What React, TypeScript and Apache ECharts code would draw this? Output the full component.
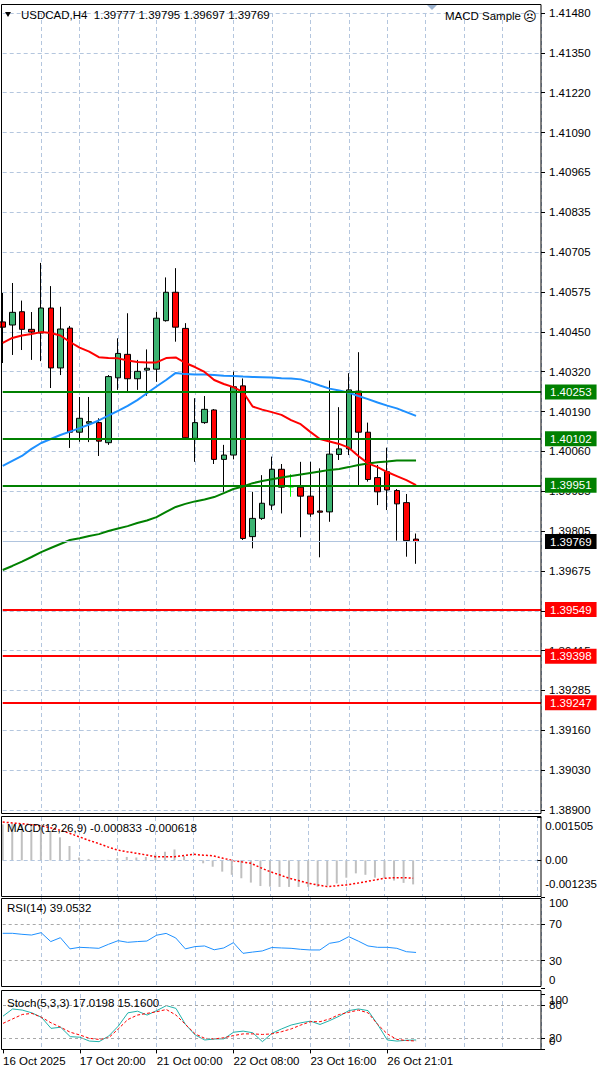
import React, { useEffect, useRef } from "react";
import * as echarts from "echarts";

// ---------- DATA ----------
const symbolName = "USDCAD,H4";
const opens = [1.40480,1.40470,1.40513,1.40456,1.40444,1.40525,1.40331,1.40460,1.40123,1.40152,1.40154,1.40089,1.40299,1.40375,1.40296,1.40324,1.40327,1.40484,1.40576,1.40459,1.40103,1.40154,1.40195,1.40035,1.40049,1.40273,1.39785,1.39844,1.39887,1.40003,1.39946,1.39945,1.39916,1.39868,1.39865,1.40051,1.40069,1.40256,1.40123,1.39976,1.39995,1.39934,1.39895,1.39777];
const closes = [1.40463,1.40511,1.40456,1.40447,1.40525,1.40331,1.40457,1.40123,1.40168,1.40157,1.40094,1.40303,1.40378,1.40296,1.40320,1.40330,1.40492,1.40576,1.40463,1.40105,1.40154,1.40197,1.40035,1.40049,1.40270,1.39779,1.39844,1.39893,1.40003,1.39945,1.39946,1.39916,1.39858,1.39864,1.40052,1.40069,1.40260,1.40123,1.39970,1.39930,1.39936,1.39891,1.39772,1.39769];
const highs = [1.40574,1.40606,1.40549,1.40512,1.40671,1.40596,1.40529,1.40467,1.40237,1.40237,1.40168,1.40308,1.40427,1.40508,1.40357,1.40391,1.40513,1.40624,1.40654,1.40476,1.40233,1.40240,1.40198,1.40082,1.40319,1.40297,1.39930,1.39984,1.40044,1.40020,1.39987,1.40027,1.40027,1.40006,1.40290,1.40204,1.40314,1.40382,1.40154,1.40017,1.40073,1.39939,1.39923,1.39795];
const lows = [1.40347,1.40373,1.40389,1.40357,1.40353,1.40266,1.40308,1.40072,1.40092,1.40091,1.40046,1.40082,1.40260,1.40254,1.40260,1.40241,1.40286,1.40481,1.40416,1.40102,1.40027,1.40150,1.40020,1.39930,1.40035,1.39774,1.39747,1.39839,1.39871,1.39860,1.39914,1.39783,1.39849,1.39718,1.39833,1.40033,1.40049,1.39952,1.39963,1.39887,1.39871,1.39772,1.39720,1.39697];

const maRed = [1.40412,1.40428,1.40436,1.40441,1.40447,1.40444,1.40436,1.40415,1.40397,1.40384,1.40366,1.40363,1.40362,1.40355,1.40350,1.40349,1.40349,1.40363,1.40365,1.40347,1.40334,1.40318,1.40292,1.40279,1.40269,1.40253,1.40206,1.40196,1.40188,1.40179,1.40162,1.40149,1.40124,1.40101,1.40093,1.40085,1.40073,1.40046,1.40022,1.40010,1.39994,1.39981,1.39968,1.39952];
const maBlue = [1.40014,1.40030,1.40046,1.40069,1.40088,1.40101,1.40114,1.40125,1.40136,1.40148,1.40161,1.40177,1.40192,1.40208,1.40227,1.40249,1.40271,1.40292,1.40315,1.40311,1.40310,1.40310,1.40308,1.40306,1.40305,1.40303,1.40302,1.40301,1.40300,1.40298,1.40297,1.40294,1.40285,1.40274,1.40264,1.40258,1.40251,1.40240,1.40230,1.40219,1.40209,1.40200,1.40188,1.40176];
const maGreen = [1.39677,1.39690,1.39704,1.39719,1.39735,1.39748,1.39761,1.39774,1.39780,1.39787,1.39793,1.39803,1.39811,1.39819,1.39829,1.39837,1.39848,1.39865,1.39881,1.39891,1.39899,1.39905,1.39913,1.39926,1.39939,1.39947,1.39958,1.39965,1.39971,1.39976,1.39981,1.39986,1.39991,1.39996,1.40001,1.40004,1.40010,1.40017,1.40022,1.40026,1.40028,1.40031,1.40031,1.40031];

const resistanceLevels = [1.40253, 1.40102, 1.39951];
const supportLevels = [1.39549, 1.39398, 1.39247];
const currentPrice = 1.39769;
const limeDojiIndex = 30;

const priceTickLabels = ["1.38900","1.39030","1.39160","1.39285","1.39415","1.39545","1.39675","1.39805","1.39935","1.40060","1.40190","1.40320","1.40450","1.40575","1.40705","1.40835","1.40965","1.41090","1.41220","1.41350","1.41480"];

const macdMain = [0.00125,0.00128,0.00125,0.00120,0.00115,0.00100,0.00080,0.00050,0.00010,0.00005,-0.00002,0.00002,0.00008,0.00012,0.00010,0.00012,0.00020,0.00030,0.00038,0.00015,0.00000,-0.00010,-0.00022,-0.00039,-0.00050,-0.00062,-0.00077,-0.00089,-0.00091,-0.00092,-0.00092,-0.00092,-0.00092,-0.00092,-0.00088,-0.00080,-0.00060,-0.00045,-0.00050,-0.00060,-0.00062,-0.00070,-0.00078,-0.000833];
const macdSignal = [0.00133,0.00130,0.00127,0.00124,0.00120,0.00113,0.00105,0.00094,0.00082,0.00070,0.00059,0.00047,0.00036,0.00030,0.00025,0.00019,0.00013,0.00013,0.00013,0.00017,0.00021,0.00018,0.00016,0.00008,0.00000,-0.00005,-0.00010,-0.00025,-0.00039,-0.00050,-0.00062,-0.00070,-0.00079,-0.00085,-0.00091,-0.00088,-0.00085,-0.00080,-0.00074,-0.00068,-0.00062,-0.00060,-0.00060,-0.000618];
const macdAxisLabels = [-0.001235, 0, 0.001505];

const rsi = [60.1,60.1,59,58.2,60.8,51,55.3,43,44.7,44.2,43.6,48,52,50.2,51,51.6,58,60,55,43,45.5,46.2,42,44,49.8,38.1,39.5,40.7,44.5,44,43.6,42.5,41.8,41.8,49.1,50.9,56.4,51.5,46.2,44.7,44.7,43.6,39.9,39.0532];
const rsiAxisLabels = [0, 30, 70, 100];
const rsiLevels = [30, 70];

const stochMain = [60,73,71,66,58,38,40,23,22,15,14,24,42,66,69,62,70,79,74,45,26,17,18.8,19,31,33,30,14,29,37,44,48,51,45,52,60,70,73,70,45,17,15,16.5,17.0198];
const stochSignal = [47,55,63,65,58,48,40,31,26,20,18,21,37,54,62,65,68,72,62,45,28,20,19,21,25,28,28,27,28,32,37,44,50,50,55,63,67,71,66,45,28,18,16,15.16];
const stochEdgeLabels = [0, 100];
const stochLevels = [20, 80];

const timeLabelIndex = [0, 8, 16, 24, 32, 40];
const timeLabels = ["16 Oct 2025", "17 Oct 20:00", "21 Oct 00:00", "22 Oct 08:00", "23 Oct 16:00", "26 Oct 21:01"];
const SLOT_COUNT = 57;

// ---------- STYLE ----------
const FONT = "'Liberation Sans', Arial, sans-serif";
const FS = 11.5;
const GRIDC = "#B4C6DE";
const BULL = "#3CB371";
const BEAR = "#FF0000";

const richFont = { fontFamily: FONT, fontSize: FS, color: "#000" };
// label shifted down (top label) or up (bottom label), like the terminal's inset scale labels
const insetRich = {
  d6: { ...richFont, padding: [12, 0, 0, 0] },
  d9: { ...richFont, padding: [18, 0, 0, 0] },
  u8: { ...richFont, padding: [0, 0, 16, 0] },
  u12: { ...richFont, padding: [0, 0, 24, 0] },
};

const App: React.FC = () => {
  const ref = useRef<HTMLDivElement>(null);

  useEffect(() => {
    if (!ref.current) return;
    const chart = echarts.init(ref.current, undefined, { renderer: "svg" });
    const categories = Array.from({ length: SLOT_COUNT }, (_, i) => String(i));

    const grids = [
      { left: 2.7, right: 59, top: 13, height: 797 },
      { left: 2.7, right: 59, top: 817, height: 79 },
      { left: 2.7, right: 59, top: 897, height: 91 },
      { left: 2.7, right: 59, top: 994, height: 55.4 },
      { left: 2.7, right: 59, top: 994, height: 55.4 }, // stoch level-label overlay
    ];

    const xAxes = grids.map((_, gi) => ({
      type: "category",
      gridIndex: gi,
      data: categories,
      boundaryGap: false,
      show: gi < 4,
      axisLine: { show: false },
      axisTick: {
        show: gi === 3,
        interval: (idx: number) => timeLabelIndex.indexOf(idx) >= 0,
        length: 4,
        lineStyle: { color: "#000" },
      },
      axisLabel: {
        show: gi === 3,
        interval: (idx: number) => timeLabelIndex.indexOf(idx) >= 0,
        formatter: (_v: string, idx: number) => {
          const k = timeLabelIndex.indexOf(idx);
          return k >= 0 ? timeLabels[k] : "";
        },
        align: "left",
        margin: 6,
        color: "#000",
        fontFamily: FONT,
        fontSize: FS,
      },
      splitLine: {
        show: gi < 4,
        interval: (idx: number) => idx > 0 && idx % 4 === 0,
        lineStyle: { color: GRIDC, type: [4, 3], width: 1 },
      },
    }));

    const axisLabelBase = {
      color: "#000", fontFamily: FONT, fontSize: FS, margin: 8, hideOverlap: false,
      showMinLabel: true, showMaxLabel: true,
    };
    const tickBase = { show: true, length: 4, inside: false, lineStyle: { color: "#000" } };

    const yAxes: any[] = [
      { type: "value", gridIndex: 0, min: 1.389, max: 1.4148, show: false, splitLine: { show: false } },
      {
        type: "value", gridIndex: 0, min: 0, max: priceTickLabels.length - 1, interval: 1, position: "right",
        axisLine: { show: false }, axisTick: tickBase,
        axisLabel: { ...axisLabelBase, formatter: (v: number) => priceTickLabels[Math.round(v)] },
        splitLine: { show: true, lineStyle: { color: GRIDC, type: [4, 3], width: 1 } },
      },
      {
        type: "value", gridIndex: 1, min: macdAxisLabels[0], max: macdAxisLabels[2], position: "right",
        axisLine: { show: false },
        axisTick: { ...tickBase, customValues: macdAxisLabels },
        axisLabel: {
          ...axisLabelBase, customValues: macdAxisLabels, rich: insetRich,
          formatter: (v: number) => {
            if (v === 0) return "0.00";
            return v > 0 ? `{d9|${v.toFixed(6)}}` : `{u12|${v.toFixed(6)}}`;
          },
        },
        splitLine: { show: false },
      },
      {
        type: "value", gridIndex: 2, min: 0, max: 100, position: "right",
        axisLine: { show: false },
        axisTick: { ...tickBase, customValues: rsiAxisLabels },
        axisLabel: {
          ...axisLabelBase, customValues: rsiAxisLabels, rich: insetRich,
          formatter: (v: number) => (v === 100 ? `{d6|${v}}` : v === 0 ? `{u8|${v}}` : String(v)),
        },
        splitLine: { show: false },
      },
      {
        type: "value", gridIndex: 3, min: 0, max: 100, position: "right",
        axisLine: { show: false },
        axisTick: { ...tickBase, customValues: stochEdgeLabels },
        axisLabel: {
          ...axisLabelBase, customValues: stochEdgeLabels, rich: insetRich,
          formatter: (v: number) => (v === 100 ? `{d6|${v}}` : `{u8|${v}}`),
        },
        splitLine: { show: false },
      },
      {
        type: "value", gridIndex: 4, min: 0, max: 100, position: "right",
        axisLine: { show: false },
        axisTick: { ...tickBase, customValues: stochLevels },
        axisLabel: { ...axisLabelBase, customValues: stochLevels, formatter: (v: number) => String(v) },
        splitLine: { show: false },
      },
    ];

    const candleData = opens.map((o, i) => {
      const item: any = { value: [o, closes[i], lows[i], highs[i]] };
      if (i === limeDojiIndex) {
        item.itemStyle = { color: "#00FF00", color0: "#00FF00", borderColor: "#00FF00", borderColor0: "#00FF00" };
      }
      return item;
    });

    const tag = (bg: string) => ({
      show: true,
      position: "end",
      distance: 4,
      formatter: (p: any) => Number(p.value).toFixed(5),
      backgroundColor: bg,
      color: "#fff",
      padding: [2, 5, 1, 5],
      fontFamily: FONT,
      fontSize: FS,
    });

    const levelLines: any[] = [
      ...resistanceLevels.map((v) => ({ yAxis: v, lineStyle: { color: "#008000", width: 2, type: "solid" }, label: tag("#008000") })),
      ...supportLevels.map((v) => ({ yAxis: v, lineStyle: { color: "#FF0000", width: 2, type: "solid" }, label: tag("#FF0000") })),
      { yAxis: currentPrice, lineStyle: { color: "#B0C4DE", width: 1, type: "solid" }, label: tag("#000000") },
    ];

    const levelMark = (vals: number[]) => ({
      silent: true, symbol: "none", precision: 5,
      label: { show: false },
      lineStyle: { color: "#A8A8A8", type: [3, 3], width: 1 },
      data: vals.map((v) => ({ yAxis: v })),
    });

    const lineBase = { type: "line", showSymbol: false, symbol: "none", silent: true };

    const option: any = {
      animation: false,
      backgroundColor: "#ffffff",
      grid: grids,
      xAxis: xAxes,
      yAxis: yAxes,
      series: [
        {
          type: "candlestick", xAxisIndex: 0, yAxisIndex: 0, data: candleData, barWidth: 6, clip: false,
          itemStyle: { color: BULL, color0: BEAR, borderColor: "#000", borderColor0: "#000", borderWidth: 1 },
          markLine: { silent: true, symbol: "none", precision: 5, data: levelLines },
          z: 3,
        },
        { ...lineBase, xAxisIndex: 0, yAxisIndex: 0, data: maGreen, lineStyle: { color: "#008000", width: 2 }, z: 4 },
        { ...lineBase, xAxisIndex: 0, yAxisIndex: 0, data: maBlue, lineStyle: { color: "#1E90FF", width: 2 }, z: 4 },
        { ...lineBase, xAxisIndex: 0, yAxisIndex: 0, data: maRed, lineStyle: { color: "#FF0000", width: 2 }, z: 4 },
        {
          type: "bar", xAxisIndex: 1, yAxisIndex: 2, data: macdMain, barWidth: 2, itemStyle: { color: "#C0C0C0" }, silent: true,
          markLine: { silent: true, symbol: "none", precision: 6, label: { show: false }, lineStyle: { color: GRIDC, type: [4, 3], width: 1 }, data: [{ yAxis: 0 }] },
        },
        { ...lineBase, xAxisIndex: 1, yAxisIndex: 2, data: macdSignal, lineStyle: { color: "#FF0000", width: 1.5, type: [2, 2] } },
        { ...lineBase, xAxisIndex: 2, yAxisIndex: 3, data: rsi, lineStyle: { color: "#1E90FF", width: 1 }, markLine: levelMark(rsiLevels) },
        { ...lineBase, xAxisIndex: 3, yAxisIndex: 4, data: stochMain, lineStyle: { color: "#20B2AA", width: 1 }, markLine: levelMark(stochLevels) },
        { ...lineBase, xAxisIndex: 3, yAxisIndex: 4, data: stochSignal, lineStyle: { color: "#FF0000", width: 1, type: [3, 2] } },
      ],
      graphic: [
        { type: "rect", shape: { x: 1.5, y: 4.5, width: 539.5, height: 809 }, style: { fill: "none", stroke: "#000", lineWidth: 1 }, z: 100 },
        { type: "rect", shape: { x: 1.5, y: 816.5, width: 539.5, height: 80 }, style: { fill: "none", stroke: "#000", lineWidth: 1 }, z: 100 },
        { type: "rect", shape: { x: 1.5, y: 898.5, width: 539.5, height: 88 }, style: { fill: "none", stroke: "#000", lineWidth: 1 }, z: 100 },
        { type: "rect", shape: { x: 1.5, y: 990.5, width: 539.5, height: 59 }, style: { fill: "none", stroke: "#000", lineWidth: 1 }, z: 100 },
        { type: "polygon", shape: { points: [[5, 12], [11, 12], [8, 17]] }, style: { fill: "#000" }, z: 101 },
        { type: "polygon", shape: { points: [[427, 5], [437, 5], [432, 10]] }, style: { fill: "#9DB3CF" }, z: 101 },
        {
          type: "text", x: 21, y: 15, z: 101,
          style: {
            text: `${symbolName}  ${opens[43].toFixed(5)} ${highs[43].toFixed(5)} ${lows[43].toFixed(5)} ${closes[43].toFixed(5)}`,
            fill: "#000", font: `${FS}px ${FONT}`, verticalAlign: "middle",
          },
        },
        { type: "text", x: 521, y: 16, z: 101, style: { text: "MACD Sample", fill: "#000", font: `${FS}px ${FONT}`, align: "right", verticalAlign: "middle" } },
        { type: "text", x: 523, y: 16, z: 101, style: { text: "☹", fill: "#000", font: `13px 'DejaVu Sans'`, verticalAlign: "middle" } },
        {
          type: "text", x: 7, y: 828, z: 101,
          style: { text: `MACD(12,26,9) ${macdMain[43].toFixed(6)} ${macdSignal[43].toFixed(6)}`, fill: "#000", font: `${FS}px ${FONT}`, verticalAlign: "middle" },
        },
        { type: "text", x: 7, y: 908, z: 101, style: { text: `RSI(14) ${rsi[43].toFixed(4)}`, fill: "#000", font: `${FS}px ${FONT}`, verticalAlign: "middle" } },
        {
          type: "text", x: 7, y: 1003, z: 101,
          style: { text: `Stoch(5,3,3) ${stochMain[43].toFixed(4)} ${stochSignal[43].toFixed(4)}`, fill: "#000", font: `${FS}px ${FONT}`, verticalAlign: "middle" },
        },
      ],
    };

    chart.setOption(option);
    return () => chart.dispose();
  }, []);

  return <div ref={ref} style={{ position: "fixed", left: 0, top: 0, width: 600, height: 1075, background: "#fff" }} />;
};

export default App;
